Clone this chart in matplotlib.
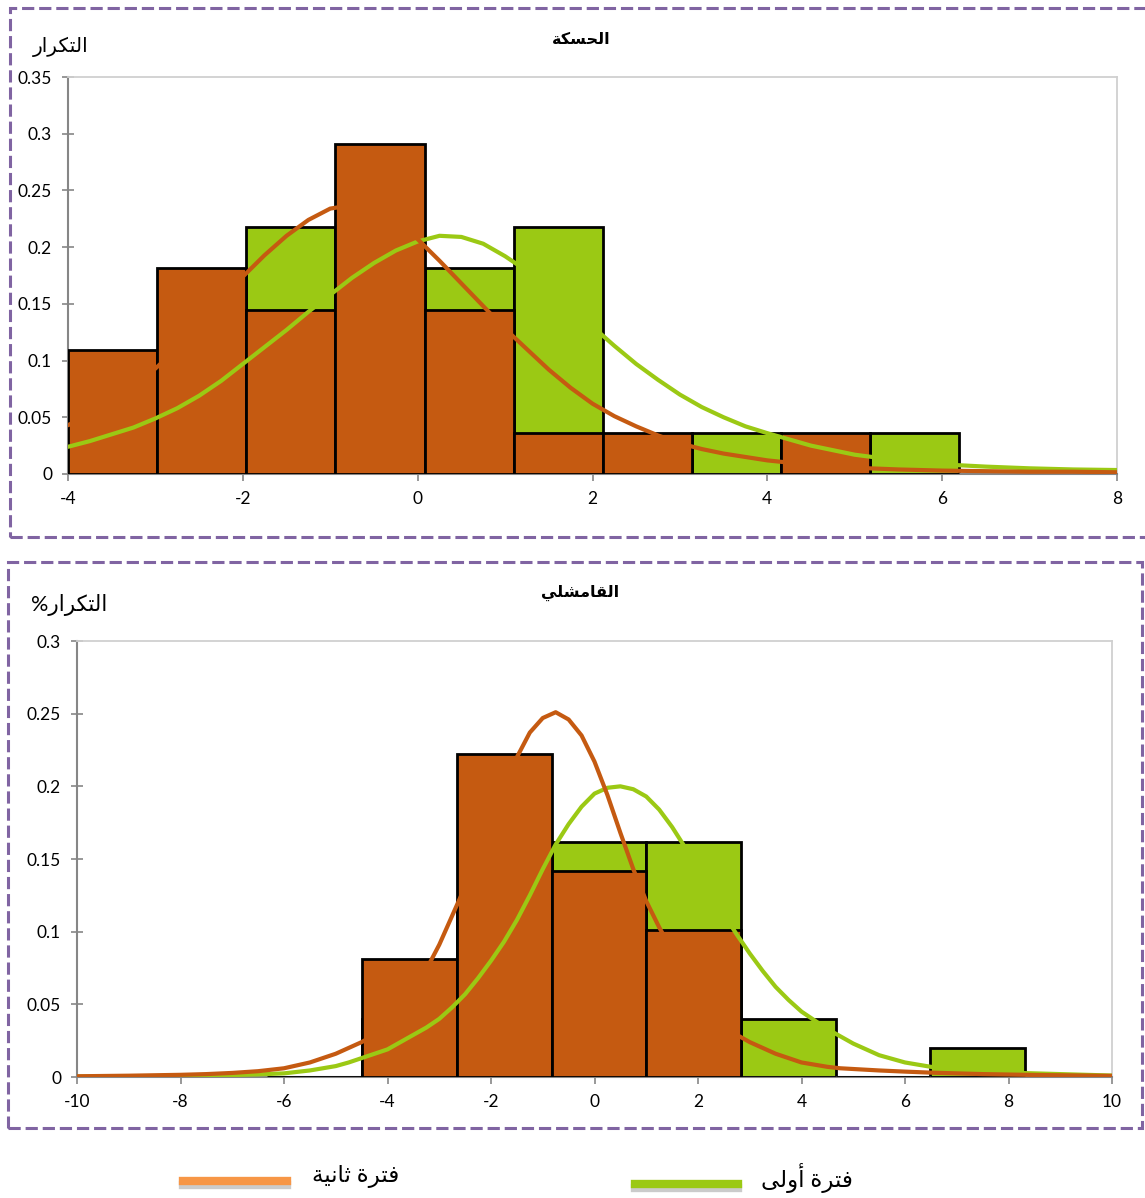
import matplotlib
matplotlib.use('Agg')
import matplotlib.pyplot as plt
import matplotlib.patheffects as pe
from matplotlib.lines import Line2D
from matplotlib.patches import Rectangle
from matplotlib.ticker import FuncFormatter

plt.rcParams['font.family'] = ['Lato', 'DejaVu Sans']
plt.rcParams['axes.unicode_minus'] = False

GREEN = '#9BC914'
BROWN = '#C55A11'
PURPLE = '#8064A2'
AXIS_GRAY = '#868686'

# Arabic labels: pre-shaped presentation forms in visual order
# (matplotlib does no Arabic shaping / bidi)
title_top = '\ufe94\ufedc\ufeb4\ufea4\ufedf\ufe8d'                    # الحسكة
title_bottom = '\ufef2\ufee0\ufeb8\ufee3\ufe8e\ufed8\ufedf\ufe8d'      # القامشلي
ylabel_top = '\ufead\ufe8d\ufeae\ufedc\ufe98\ufedf\ufe8d'             # التكرار
ylabel_bottom = '%\ufead\ufe8d\ufeae\ufedc\ufe98\ufedf\ufe8d'         # التكرار%
legend_second = '\ufe94\ufef4\ufee7\ufe8e\ufe9b \ufe93\ufeae\ufe98\ufed3'  # فترة ثانية
legend_first = '\ufef0\ufedf\ufeed\ufe83 \ufe93\ufeae\ufe98\ufed3'          # فترة أولى

# --- Top panel (الحسكة) ---
top_bin_left = [-4.0, -2.98, -1.96, -0.94, 0.08, 1.10, 2.12, 3.14, 4.16, 5.17]
top_bin_width = 1.02
top_first = [0.036, 0.073, 0.218, 0.182, 0.182, 0.218, 0.0, 0.036, 0.018, 0.036]
top_second = [0.109, 0.182, 0.145, 0.291, 0.145, 0.036, 0.036, 0.0, 0.036, 0.0]

top_curve_x = [-4.0, -3.75, -3.5, -3.25, -3.0, -2.75, -2.5, -2.25, -2.0, -1.75, -1.5,
               -1.25, -1.0, -0.75, -0.5, -0.25, 0.0, 0.25, 0.5, 0.75, 1.0, 1.25, 1.5,
               1.75, 2.0, 2.25, 2.5, 2.75, 3.0, 3.25, 3.5, 3.75, 4.0,
               4.5, 5.0, 5.5, 6.0, 6.5, 7.0, 7.5, 8.0]
top_curve_first = [0.024, 0.029, 0.035, 0.041, 0.049, 0.058, 0.069, 0.082, 0.097, 0.112,
                   0.127, 0.143, 0.158, 0.173, 0.186, 0.197, 0.205, 0.210, 0.209, 0.203,
                   0.192, 0.179, 0.163, 0.147, 0.130, 0.113, 0.097, 0.083, 0.070, 0.059,
                   0.050, 0.042, 0.036,
                   0.025, 0.017, 0.012, 0.0085, 0.0065, 0.005, 0.004, 0.0035]
top_curve_second = [0.043, 0.053, 0.064, 0.077, 0.093, 0.111, 0.131, 0.152, 0.174, 0.193,
                    0.210, 0.224, 0.234, 0.237, 0.233, 0.222, 0.207, 0.188, 0.168, 0.148,
                    0.128, 0.110, 0.092, 0.076, 0.062, 0.051, 0.042, 0.034, 0.027, 0.022,
                    0.018, 0.015, 0.012,
                    0.008, 0.0055, 0.004, 0.003, 0.0025, 0.002, 0.002, 0.0015]

# --- Bottom panel (القامشلي) ---
bot_bin_left = [-6.32, -4.49, -2.66, -0.83, 1.00, 2.83, 4.66, 6.49]
bot_bin_width = 1.83
bot_first = [0.0, 0.040, 0.121, 0.162, 0.162, 0.040, 0.0, 0.020]
bot_second = [0.0, 0.081, 0.222, 0.142, 0.101, 0.0, 0.0, 0.0]

bot_curve_x = [-10.0, -9.5, -9.0, -8.5, -8.0, -7.5, -7.0, -6.5, -6.0, -5.5,
               -5.0, -4.75, -4.5, -4.25, -4.0, -3.75, -3.5, -3.25, -3.0, -2.75,
               -2.5, -2.25, -2.0, -1.75, -1.5, -1.25, -1.0, -0.75, -0.5, -0.25,
               0.0, 0.25, 0.5, 0.75, 1.0, 1.25, 1.5, 1.75, 2.0, 2.25,
               2.5, 2.75, 3.0, 3.25, 3.5, 3.75, 4.0, 4.25, 4.5, 4.75, 5.0,
               5.5, 6.0, 6.5, 7.0, 7.5, 8.0, 8.5, 9.0, 9.5, 10.0]
bot_curve_first = [0.0003, 0.0004, 0.0005, 0.0006, 0.0008, 0.001, 0.0013, 0.0018, 0.0025, 0.0045,
                   0.0075, 0.010, 0.013, 0.016, 0.019, 0.024, 0.029, 0.034, 0.040, 0.048,
                   0.057, 0.068, 0.080, 0.093, 0.108, 0.125, 0.143, 0.160, 0.174, 0.186,
                   0.195, 0.199, 0.200, 0.198, 0.193, 0.184, 0.172, 0.158, 0.143, 0.127,
                   0.112, 0.098, 0.085, 0.073, 0.062, 0.053, 0.045, 0.039, 0.033, 0.028, 0.023,
                   0.015, 0.010, 0.007, 0.005, 0.004, 0.003, 0.0025, 0.002, 0.0015, 0.001]
bot_curve_second = [0.0005, 0.0007, 0.0009, 0.0012, 0.0015, 0.002, 0.0028, 0.004, 0.006, 0.010,
                    0.016, 0.020, 0.024, 0.029, 0.036, 0.046, 0.059, 0.074, 0.091, 0.111,
                    0.131, 0.153, 0.176, 0.199, 0.220, 0.237, 0.247, 0.251, 0.246, 0.235,
                    0.217, 0.194, 0.168, 0.143, 0.121, 0.103, 0.087, 0.072, 0.058, 0.046,
                    0.036, 0.029, 0.024, 0.020, 0.016, 0.013, 0.010, 0.0085, 0.007, 0.006, 0.0055,
                    0.0045, 0.0037, 0.003, 0.0025, 0.002, 0.0017, 0.0014, 0.0012, 0.001, 0.0008]

W, H = 1145, 1198
fig = plt.figure(figsize=(W / 100, H / 100), dpi=100)


def px_rect(left, top, right, bottom):
    return [left / W, 1 - bottom / H, (right - left) / W, (bottom - top) / H]


def draw_panel(rect, bin_left, width, first, second, cx, c_first, c_second,
               xlim, ylim, xticks, yticks):
    ax = fig.add_axes(rect)
    ax.bar(bin_left, first, width=width, align='edge', color=GREEN,
           edgecolor='black', linewidth=2, zorder=2)
    ax.bar(bin_left, second, width=width, align='edge', color=BROWN,
           edgecolor='black', linewidth=2, zorder=3)
    ax.plot(cx, c_first, color=GREEN, lw=3, zorder=4, solid_capstyle='round',
            solid_joinstyle='round')
    ax.plot(cx, c_second, color=BROWN, lw=3, zorder=5, solid_capstyle='round',
            solid_joinstyle='round')
    ax.set_xlim(*xlim)
    ax.set_ylim(*ylim)
    ax.set_xticks(xticks)
    ax.set_yticks(yticks)
    ax.yaxis.set_major_formatter(FuncFormatter(lambda v, p: f'{v:g}'))
    ax.xaxis.set_major_formatter(FuncFormatter(lambda v, p: f'{v:g}'))
    for s in ['left', 'bottom']:
        ax.spines[s].set_color(AXIS_GRAY)
        ax.spines[s].set_linewidth(1.5)
    for s in ['top', 'right']:
        ax.spines[s].set_color('#D0D0D0')
        ax.spines[s].set_linewidth(1.3)
    ax.tick_params(axis='y', direction='inout', length=9, width=1.2,
                   color=AXIS_GRAY, labelsize=12.5, pad=7)
    ax.tick_params(axis='x', direction='out', length=5, width=1.2,
                   color=AXIS_GRAY, labelsize=12.5, pad=7)
    return ax


draw_panel(px_rect(68, 77, 1117, 474), top_bin_left, top_bin_width, top_first, top_second,
           top_curve_x, top_curve_first, top_curve_second,
           (-4, 8), (0, 0.35), range(-4, 9, 2), [i * 0.05 for i in range(8)])
draw_panel(px_rect(77, 641, 1112, 1077), bot_bin_left, bot_bin_width, bot_first, bot_second,
           bot_curve_x, bot_curve_first, bot_curve_second,
           (-10, 10), (0, 0.3), range(-10, 11, 2), [i * 0.05 for i in range(7)])

# titles and y labels
fig.text(581 / W, 1 - 40 / H, title_top, ha='center', va='center',
         fontsize=11.5, fontweight='bold')
fig.text(580 / W, 1 - 593 / H, title_bottom, ha='center', va='center',
         fontsize=11.5, fontweight='bold')
fig.text(61 / W, 1 - 47 / H, ylabel_top, ha='center', va='center', fontsize=14.5)
fig.text(69 / W, 1 - 605 / H, ylabel_bottom, ha='center', va='center', fontsize=15.5)

# dashed purple frames
fig.add_artist(Rectangle((10 / W, 1 - 537 / H), 1.2, 529 / H, transform=fig.transFigure,
                         fill=False, edgecolor=PURPLE, lw=2.2, linestyle=(0, (4, 1.6))))
fig.add_artist(Rectangle((8 / W, 1 - 1128 / H), 1134 / W, 566 / H, transform=fig.transFigure,
                         fill=False, edgecolor=PURPLE, lw=2.2, linestyle=(0, (4, 1.6))))

# legend
shadow = [pe.SimpleLineShadow(offset=(0, -3), shadow_color='#999999', alpha=0.5), pe.Normal()]
fig.add_artist(Line2D([183 / W, 287 / W], [1 - 1181 / H] * 2, color='#F79646', lw=6,
                      transform=fig.transFigure, path_effects=shadow))
fig.add_artist(Line2D([635 / W, 738 / W], [1 - 1184 / H] * 2, color=GREEN, lw=6,
                      transform=fig.transFigure, path_effects=shadow))
fig.text(356 / W, 1 - 1177 / H, legend_second, ha='center', va='center', fontsize=16.5)
fig.text(807 / W, 1 - 1178 / H, legend_first, ha='center', va='center', fontsize=16.5)

fig.savefig('out.png', dpi=100)
